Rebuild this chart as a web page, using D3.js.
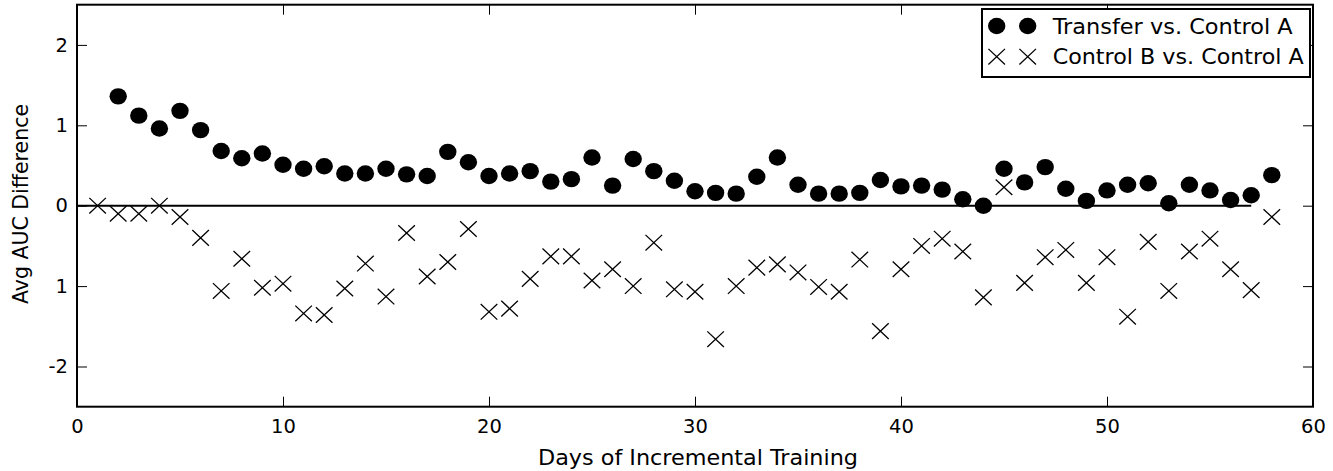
<!DOCTYPE html>
<html>
<head>
<meta charset="utf-8">
<script src="https://cdn.jsdelivr.net/npm/d3@7"></script>
<style>
  body { margin: 0; background: #fff; }
  #chart text { font-family: "DejaVu Sans", sans-serif; fill: #000; }
</style>
</head>
<body>
<div id="chart"></div>
<script>
//////// DATA ////////
var days = [1,2,3,4,5,6,7,8,9,10,11,12,13,14,15,16,17,18,19,20,21,22,23,24,25,26,27,28,29,30,
            31,32,33,34,35,36,37,38,39,40,41,42,43,44,45,46,47,48,49,50,51,52,53,54,55,56,57,58];

// Transfer vs. Control A (no value on day 1)
var transferVsA = [null,1.36,1.12,0.96,1.18,0.94,0.68,0.59,0.65,0.51,0.46,0.49,0.40,0.40,0.46,0.39,0.37,0.67,0.54,0.37,
                   0.40,0.43,0.30,0.33,0.60,0.25,0.58,0.43,0.31,0.18,0.16,0.15,0.36,0.60,0.26,0.15,0.15,0.16,0.32,0.24,
                   0.25,0.20,0.08,0.00,0.46,0.29,0.48,0.21,0.06,0.19,0.26,0.28,0.03,0.26,0.19,0.07,0.13,0.38];

// Control B vs. Control A
var controlBVsA = [0.00,-0.10,-0.10,0.00,-0.14,-0.40,-1.06,-0.66,-1.02,-0.97,-1.34,-1.36,-1.03,-0.72,-1.13,-0.34,-0.88,-0.70,-0.29,-1.32,
                   -1.28,-0.91,-0.63,-0.63,-0.93,-0.79,-1.00,-0.46,-1.04,-1.07,-1.66,-1.00,-0.77,-0.73,-0.83,-1.01,-1.07,-0.67,-1.56,-0.79,
                   -0.50,-0.41,-0.57,-1.14,0.23,-0.96,-0.64,-0.55,-0.96,-0.64,-1.38,-0.45,-1.06,-0.57,-0.41,-0.79,-1.05,-0.14];

var xTicks = [0, 10, 20, 30, 40, 50, 60];
var yTicks = [-2, -1, 0, 1, 2];
var yTickLabels = ["-2", "1", "0", "1", "2"];   // as printed in the source figure
var zeroLineEnd = 57;

var seriesNames = ["Transfer vs. Control A", "Control B vs. Control A"];

//////// CANVAS ////////
var outerWidth = 1333, outerHeight = 471;
var margin = {top: 4.7, right: 20, bottom: 64.3, left: 77};
var width = outerWidth - margin.left - margin.right,
    height = outerHeight - margin.top - margin.bottom;

var svg = d3.select("#chart").append("svg")
    .attr("width", outerWidth)
    .attr("height", outerHeight);

var g = svg.append("g")
    .attr("transform", "translate(" + margin.left + "," + margin.top + ")");

//////// SCALES ////////
var xScale = d3.scaleLinear().domain([0, 60]).range([0, width]);
var yScale = d3.scaleLinear().domain([-2.5, 2.5]).range([height, 0]);

//////// AXES ////////
function styleAxis(sel) {
    sel.select(".domain").remove();
    sel.selectAll(".tick line").attr("stroke", "#000").attr("stroke-width", 1);
    sel.selectAll(".tick text").style("font-size", "19.5px");
}

g.append("g")
    .attr("transform", "translate(0," + height + ")")
    .call(d3.axisBottom(xScale).tickValues(xTicks).tickSizeInner(-10).tickSizeOuter(0).tickPadding(12))
    .call(styleAxis);

g.append("g")
    .call(d3.axisTop(xScale).tickValues(xTicks).tickSizeInner(-10).tickSizeOuter(0).tickFormat(""))
    .call(styleAxis);

g.append("g")
    .call(d3.axisLeft(yScale).tickValues(yTicks).tickSizeInner(-10).tickSizeOuter(0).tickPadding(9)
        .tickFormat(function(d, i) { return yTickLabels[i]; }))
    .call(styleAxis);

g.append("g")
    .attr("transform", "translate(" + width + ",0)")
    .call(d3.axisRight(yScale).tickValues(yTicks).tickSizeInner(-10).tickSizeOuter(0).tickFormat(""))
    .call(styleAxis);

// zero line
g.append("line")
    .attr("x1", xScale(0)).attr("x2", xScale(zeroLineEnd))
    .attr("y1", yScale(0)).attr("y2", yScale(0))
    .attr("stroke", "#000").attr("stroke-width", 2);

//////// MARKS ////////
var dotData = days.map(function(d, i) { return {day: d, v: transferVsA[i]}; })
    .filter(function(d) { return d.v !== null; });
var crossData = days.map(function(d, i) { return {day: d, v: controlBVsA[i]}; });

function crossPath(cx, cy) {
    var a = 8.3, b = 7.8;
    return "M" + (cx - a) + "," + (cy - b) + "L" + (cx + a) + "," + (cy + b) +
           "M" + (cx - a) + "," + (cy + b) + "L" + (cx + a) + "," + (cy - b);
}

g.append("g").selectAll("path")
    .data(crossData)
    .enter().append("path")
        .attr("d", function(d) { return crossPath(xScale(d.day), yScale(d.v)); })
        .attr("stroke", "#000")
        .attr("stroke-width", 1.3)
        .attr("fill", "none");

g.append("g").selectAll("ellipse")
    .data(dotData)
    .enter().append("ellipse")
        .attr("cx", function(d) { return xScale(d.day); })
        .attr("cy", function(d) { return yScale(d.v); })
        .attr("rx", 8.7)
        .attr("ry", 8.2)
        .attr("fill", "#000");

// frame
g.append("rect")
    .attr("width", width).attr("height", height)
    .attr("fill", "none").attr("stroke", "#000").attr("stroke-width", 2);

//////// LABELS ////////
g.append("text")
    .attr("x", width / 2 + 3)
    .attr("y", height + 58)
    .attr("text-anchor", "middle")
    .attr("textLength", 320)
    .attr("lengthAdjust", "spacingAndGlyphs")
    .style("font-size", "21px")
    .text("Days of Incremental Training");

svg.append("text")
    .attr("transform", "translate(28," + 204 + ") rotate(-90)")
    .attr("text-anchor", "middle")
    .style("font-size", "20.5px")
    .text("Avg AUC Difference");

//////// LEGEND ////////
var legendTextWidths = [240, 251];
var legend = svg.append("g").attr("transform", "translate(982,9)");

legend.append("rect")
    .attr("width", 328).attr("height", 68)
    .attr("fill", "#fff").attr("stroke", "#000").attr("stroke-width", 2);

var rows = legend.selectAll("g.row")
    .data(seriesNames)
    .enter().append("g")
        .attr("class", "row")
        .attr("transform", function(d, i) { return "translate(0," + (17 + i * 30.7) + ")"; });

rows.each(function(d, i) {
    var r = d3.select(this);
    [14.7, 45.7].forEach(function(mx) {
        if (i === 0) {
            r.append("ellipse").attr("cx", mx).attr("cy", 0).attr("rx", 8.7).attr("ry", 8.2).attr("fill", "#000");
        } else {
            r.append("path").attr("d", crossPath(mx, 0))
                .attr("stroke", "#000").attr("stroke-width", 1.3).attr("fill", "none");
        }
    });
    r.append("text")
        .attr("x", 70.7)
        .attr("dy", "0.36em")
        .attr("textLength", legendTextWidths[i])
        .attr("lengthAdjust", "spacingAndGlyphs")
        .style("font-size", "21px")
        .text(d);
});
</script>
</body>
</html>
